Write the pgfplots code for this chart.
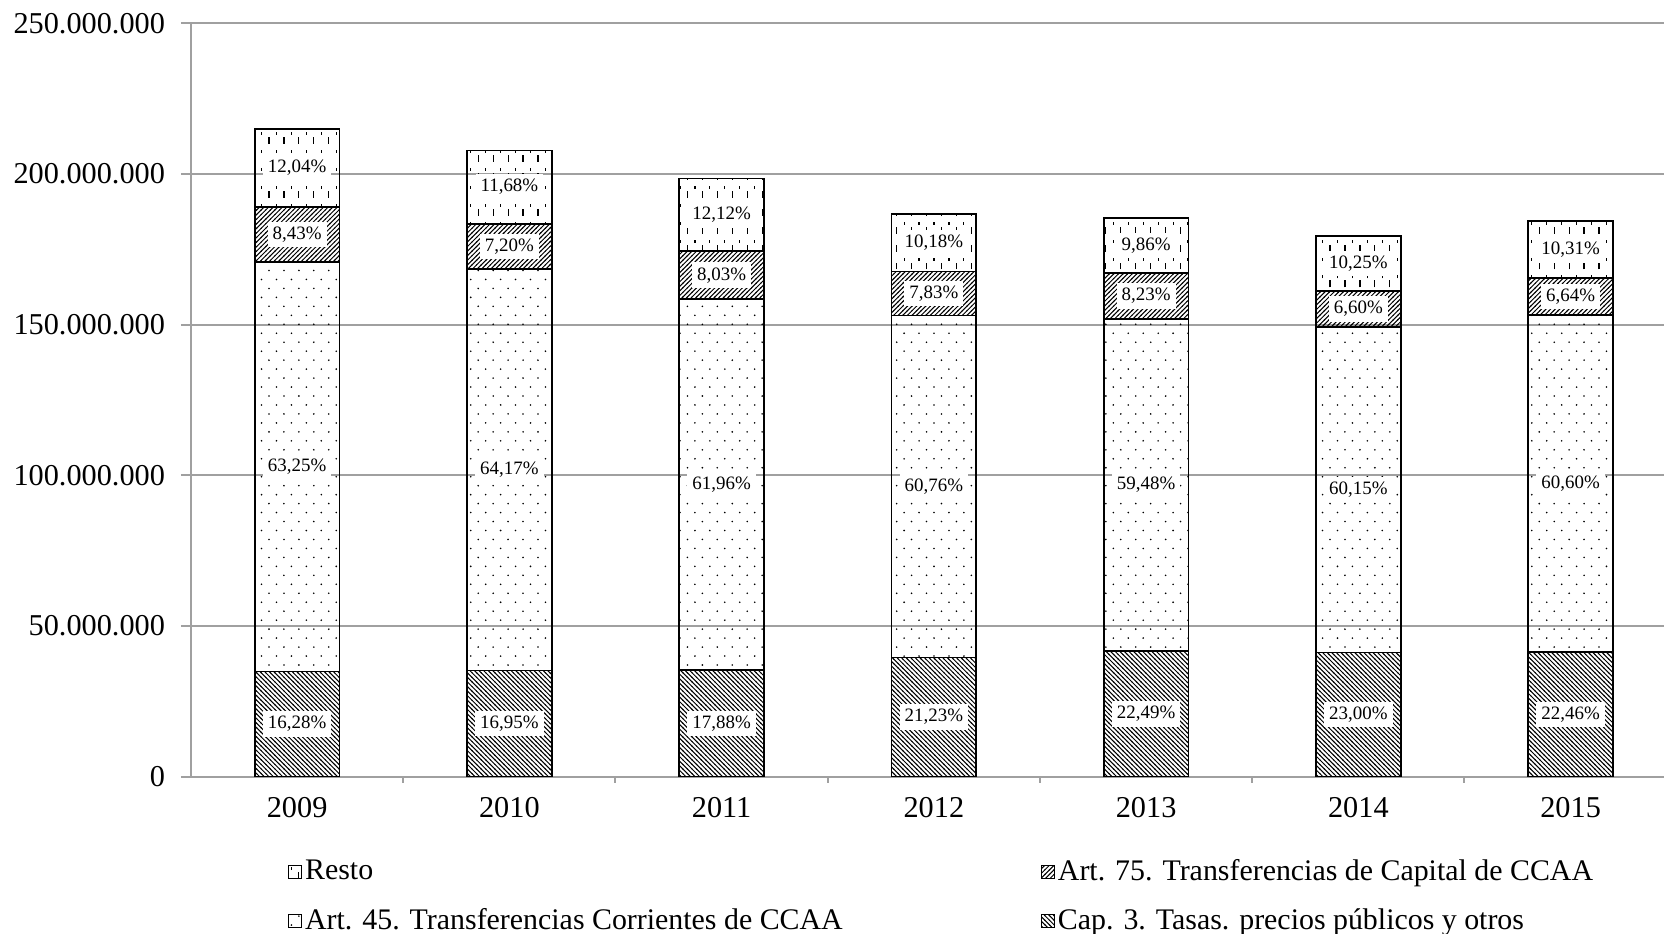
\documentclass[border=0pt]{standalone}
\usepackage{fontspec}
\setmainfont{Liberation Serif}
\usepackage{pgfplots}
\pgfplotsset{compat=1.18}
\usepackage{pgfplotstable}
\usetikzlibrary{patterns}

\pgfdeclarepatternformonly{capl}{\pgfqpoint{-0.5pt}{-0.5pt}}{\pgfqpoint{3pt}{3pt}}{\pgfqpoint{2.3pt}{2.3pt}}{%
  \pgfsetlinewidth{0.5pt}%
  \pgfpathmoveto{\pgfqpoint{-0.2pt}{2.5pt}}%
  \pgfpathlineto{\pgfqpoint{2.5pt}{-0.2pt}}%
  \pgfusepath{stroke}}
\pgfdeclarepatternformonly{artl}{\pgfqpoint{-0.5pt}{-0.5pt}}{\pgfqpoint{3pt}{3pt}}{\pgfqpoint{2.3pt}{2.3pt}}{%
  \pgfsetlinewidth{0.5pt}%
  \pgfpathmoveto{\pgfqpoint{-0.2pt}{-0.2pt}}%
  \pgfpathlineto{\pgfqpoint{2.5pt}{2.5pt}}%
  \pgfusepath{stroke}}
\pgfdeclarepatternformonly{sparsedots}{\pgfqpoint{-1pt}{-1pt}}{\pgfqpoint{8.5pt}{10pt}}{\pgfqpoint{7.5pt}{9pt}}{%
  \pgfpathcircle{\pgfqpoint{0pt}{0pt}}{0.45pt}%
  \pgfpathcircle{\pgfqpoint{3.75pt}{4.5pt}}{0.45pt}%
  \pgfusepath{fill}}
\pgfdeclarepatternformonly{vdash}{\pgfqpoint{-1pt}{-1pt}}{\pgfqpoint{8.5pt}{10pt}}{\pgfqpoint{7.5pt}{9pt}}{%
  \pgfsetlinewidth{0.6pt}%
  \pgfpathmoveto{\pgfqpoint{0pt}{0.5pt}}\pgfpathlineto{\pgfqpoint{0pt}{4pt}}%
  \pgfpathmoveto{\pgfqpoint{3.75pt}{5pt}}\pgfpathlineto{\pgfqpoint{3.75pt}{6.5pt}}%
  \pgfusepath{stroke}}

% values in millions; l* = percentage labels; m* = label heights (segment middles)
\pgfplotstableread{
x cap a45 a75 resto lcap l45 l75 lresto mcap m45 m75 mres
0 34.99 135.92 18.12 25.87 16.28 63.25 8.43 12.04 17.50 102.95 179.97 201.97
1 35.22 133.35 14.96 24.27 16.95 64.17 7.20 11.68 17.61 101.90 176.05 195.67
2 35.49 122.99 15.94 24.06 17.88 61.96 8.03 12.12 17.75 96.99 166.45 186.45
3 39.64 113.44 14.62 19.01 21.23 60.76 7.83 10.18 19.82 96.36 160.39 177.21
4 41.67 110.22 15.25 18.27 22.49 59.48 8.23 9.86 20.84 96.78 159.52 176.28
5 41.29 107.97 11.85 18.40 23.00 60.15 6.60 10.25 20.65 95.28 155.19 170.31
6 41.44 111.81 12.25 19.02 22.46 60.60 6.64 10.31 20.72 97.35 159.38 175.01
}\datatable

\definecolor{axgray}{RGB}{160,160,160}
\pgfplotsset{common/.style={scale only axis, width=736.5bp, height=376.7bp,
  xmin=-0.5, xmax=6.44, ymin=0, ymax=250}}

\begin{document}
\begin{tikzpicture}
\begin{axis}[
  common,
  ybar stacked, bar width=42.4bp,
  axis x line*=bottom, axis y line*=left,
  axis line style={draw=axgray, line width=1bp},
  ymajorgrids, grid style={draw=axgray, line width=1bp},
  xtick={0,...,6}, xticklabels={2009,2010,2011,2012,2013,2014,2015},
  ytick={0,50,100,150,200,250},
  yticklabels={0,50.000.000,100.000.000,150.000.000,200.000.000,250.000.000},
  tick label style={font=\fontsize{15.2}{18}\selectfont},
  tick align=outside, major tick length=5bp,
  xtick style={draw=none},
  ytick style={draw=axgray, line width=1bp},
  extra x ticks={0.5,1.5,2.5,3.5,4.5,5.5},
  extra x tick labels={},
  extra x tick style={grid=none, major tick length=3bp, xtick style={draw=axgray, line width=1bp}},
  yticklabel style={xshift=-4.5bp},
  xticklabel style={yshift=-2bp},
  legend image code/.code={\draw[#1, draw=black, line width=0.6bp] (0bp,-3.25bp) rectangle (6.5bp,3.25bp);},
  legend style={at={(0.0615,-0.0988)}, anchor=north west, draw=none, fill=none,
     font=\fontsize{15}{18}\selectfont, legend columns=2, row sep=8.6bp,
     /tikz/every even column/.append style={column sep=97.5bp},
     nodes={inner xsep=1.5bp},
     legend cell align=left},
]
\addlegendimage{pattern=vdash}
\addlegendimage{pattern=artl}
\addlegendimage{pattern=sparsedots}
\addlegendimage{pattern=capl}
\addplot[draw=black, line width=0.8bp, pattern=capl] table[x=x, y=cap] {\datatable};
\addplot[draw=black, line width=0.8bp, pattern=sparsedots] table[x=x, y=a45] {\datatable};
\addplot[draw=black, line width=0.8bp, pattern=artl] table[x=x, y=a75] {\datatable};
\addplot[draw=black, line width=0.8bp, pattern=vdash] table[x=x, y=resto] {\datatable};
\legend{Resto, Art. 75. Transferencias de Capital de CCAA, Art. 45. Transferencias Corrientes de CCAA, Cap. 3. Tasas. precios públicos y otros}
\end{axis}
\begin{axis}[
  common, hide axis, clip=false,
  point meta=explicit,
  nodes near coords={\pgfmathprintnumber[fixed,fixed zerofill,precision=2,use comma,assume math mode=true]{\pgfplotspointmeta}\%},
  every node near coord/.append style={anchor=center, fill=white, inner xsep=2.5bp, inner ysep=2.5bp,
     font=\fontsize{9.5}{11}\selectfont, text=black},
]
\addplot[draw=none, mark=none] table[x=x, y=mcap, meta=lcap] {\datatable};
\addplot[draw=none, mark=none] table[x=x, y=m45, meta=l45] {\datatable};
\addplot[draw=none, mark=none] table[x=x, y=m75, meta=l75] {\datatable};
\addplot[draw=none, mark=none] table[x=x, y=mres, meta=lresto] {\datatable};
\end{axis}
\pgfresetboundingbox
\path[use as bounding box] (-95.5bp,-78.6bp) rectangle (736.5bp,388.4bp);
\end{tikzpicture}
\end{document}
